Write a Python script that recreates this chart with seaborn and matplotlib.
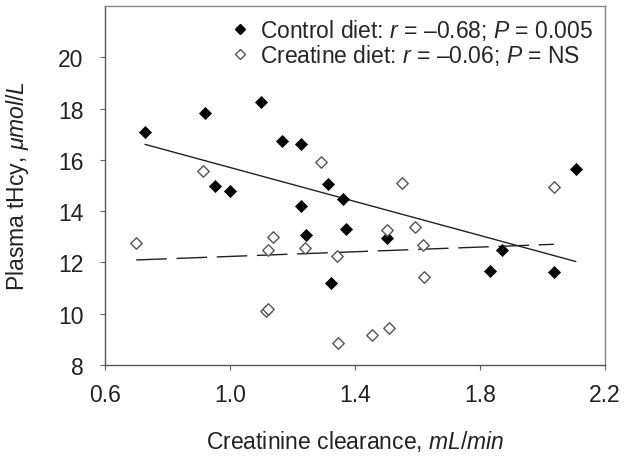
import matplotlib
matplotlib.use("Agg")
import matplotlib.pyplot as plt
import seaborn as sns
import pandas as pd
import numpy as np
from matplotlib.lines import Line2D

# Control diet (filled diamonds)
control_x = [0.728, 0.92, 0.952, 1.00, 1.10, 1.166, 1.226, 1.226, 1.245, 1.314,
             1.362, 1.371, 1.323, 1.502, 1.832, 1.871, 2.037, 2.107]
control_y = [17.1, 17.84, 14.96, 14.77, 18.27, 16.72, 16.6, 14.2, 13.06, 15.04,
             14.46, 13.29, 11.19, 12.94, 11.66, 12.47, 11.62, 15.63]

# Creatine diet (open diamonds)
creatine_x = [0.70, 0.914, 1.138, 1.122, 1.115, 1.122, 1.291, 1.24, 1.342, 1.346,
              1.454, 1.509, 1.502, 1.55, 1.592, 1.618, 1.621, 2.037]
creatine_y = [12.75, 15.55, 13.0, 12.5, 10.1, 10.2, 15.9, 12.55, 12.24, 8.86,
              9.17, 9.44, 13.25, 15.1, 13.37, 12.67, 11.45, 14.93]

groups = ["Control", "Creatine"]
legend_labels = ["Control diet: $r$ = \u20130.68; $P$ = 0.005",
                 "Creatine diet: $r$ = \u20130.06; $P$ = NS"]
x_ticks = [0.6, 1.0, 1.4, 1.8, 2.2]
y_ticks = [8, 10, 12, 14, 16, 18, 20]

df = pd.DataFrame({
    "x": control_x + creatine_x,
    "y": control_y + creatine_y,
    "group": [groups[0]] * len(control_x) + [groups[1]] * len(creatine_x),
})

sns.set_theme(style="ticks")
plt.rcParams["font.family"] = ["Liberation Sans", "DejaVu Sans"]
plt.rcParams["mathtext.fontset"] = "custom"
plt.rcParams["mathtext.rm"] = "Liberation Sans"
plt.rcParams["mathtext.it"] = "Liberation Sans:italic"
plt.rcParams["lines.scale_dashes"] = False

FS = 16.5
fig = plt.figure(figsize=(6.34, 4.6), dpi=100)
ax = fig.add_axes([0.1656, 0.2043, 0.7884, 0.7807])

dc = df[df.group == groups[0]]
dk = df[df.group == groups[1]]

sns.regplot(data=dc, x="x", y="y", ax=ax, scatter=False, ci=None, truncate=True,
            line_kws=dict(color="#222222", lw=1.0))
sns.regplot(data=dk, x="x", y="y", ax=ax, scatter=False, ci=None, truncate=True,
            line_kws=dict(color="#222222", lw=1.0, dashes=(22, 7)))

sns.scatterplot(data=dc, x="x", y="y", ax=ax, marker="D", s=38,
                color="black", edgecolor="black", linewidth=0.5, zorder=3)
sns.scatterplot(data=dk, x="x", y="y", ax=ax, marker="D", s=34,
                facecolor="white", edgecolor="#555555", linewidth=1.0, zorder=3)

ax.set_xlim(0.6, 2.2)
ax.set_ylim(8, 22)
ax.set_xticks(x_ticks)
ax.set_xticklabels([f"{v:.1f}" for v in x_ticks])
ax.set_yticks(y_ticks)
ax.set_yticklabels([str(v) for v in y_ticks])

ax.set_xlabel("Creatinine clearance, $mL/min$", fontsize=FS, color="#222222", labelpad=16)
ax.set_ylabel("Plasma tHcy, $\\mu mol/L$", fontsize=FS, color="#222222", labelpad=19)
ax.tick_params(axis="both", labelsize=FS, colors="#222222", length=3.6, width=0.8,
               direction="out", color="#666666")
ax.tick_params(axis="x", pad=9.5)
ax.tick_params(axis="y", pad=12)

for side in ["left", "bottom"]:
    ax.spines[side].set_color("#555555")
    ax.spines[side].set_linewidth(1.0)
for side in ["top", "right"]:
    ax.spines[side].set_visible(True)
    ax.spines[side].set_color("#888888")
    ax.spines[side].set_linewidth(1.0)

handles = [
    Line2D([], [], marker="D", ls="none", color="black", markersize=5),
    Line2D([], [], marker="D", ls="none", markerfacecolor="white",
           markeredgecolor="#555555", markersize=5),
]
ax.legend(handles, legend_labels, loc="upper right", frameon=False, fontsize=FS,
          handlelength=0.6, handletextpad=0.6, labelspacing=0.0,
          borderaxespad=0.3, borderpad=0.2)

fig.savefig("out.png", dpi=100)
